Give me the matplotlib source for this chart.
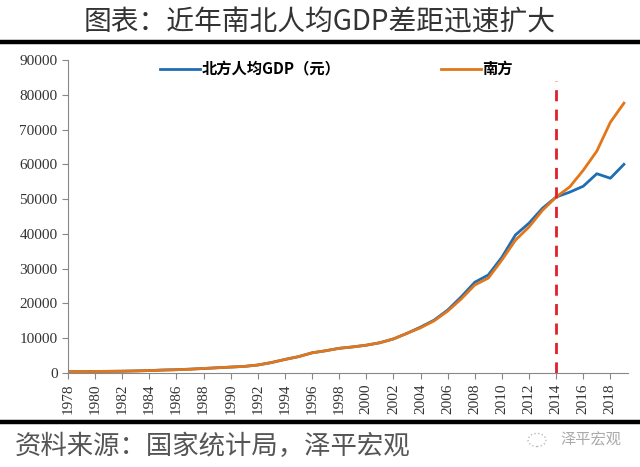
import matplotlib
matplotlib.use("Agg")
import matplotlib.pyplot as plt
from matplotlib.lines import Line2D
from matplotlib.patches import Circle

plt.rcParams['font.family'] = ['Noto Sans CJK SC', 'DejaVu Sans']

# data (元 per capita)
years = list(range(1978, 2020))
north = [380, 400, 450, 480, 520, 600, 700, 850, 950, 1100, 1300, 1500,
         1700, 1900, 2300, 3000, 3900, 4700, 5800, 6400, 7100, 7500,
         8000, 8700, 9800, 11400, 13200, 15200, 18100, 21900, 26100, 28200,
         33300, 39700, 43100, 47400, 50600, 52000, 53700, 57300, 56000, 60000]
south = [380, 400, 450, 480, 520, 600, 700, 850, 950, 1100, 1300, 1500,
         1700, 1900, 2300, 3000, 3900, 4700, 5800, 6400, 7100, 7500,
         8000, 8700, 9800, 11400, 13000, 15000, 17800, 21300, 25300, 27300,
         32500, 38200, 42000, 46800, 50600, 53500, 58300, 63800, 72100, 77600]
label_years = list(range(1978, 2019, 2))
yticks = list(range(0, 90001, 10000))
split_year = 2014

fig = plt.figure(figsize=(6.4, 4.67), dpi=100)
ax = fig.add_axes([68 / 640, 1 - 373 / 467, 560 / 640, 313 / 467])

ax.plot(years, north, color='#1f6eb4', lw=2.0, label='北方人均GDP（元）')
ax.plot(years, south, color='#e2761a', lw=2.0, label='南方')
ax.plot([split_year, split_year], [0, 84000], color='#e0202a', lw=2,
        dashes=(4, 3))

ax.set_xlim(1978, 2019.3)
ax.set_ylim(0, 90000)
ax.set_yticks(yticks)
ax.set_yticklabels([str(v) for v in yticks], family='Liberation Serif',
                   fontsize=11)
ax.set_xticks(label_years)
ax.set_xticklabels([str(v) for v in label_years], family='Liberation Serif',
                   fontsize=11, rotation=90)
for side in ['top', 'right']:
    ax.spines[side].set_visible(False)
for side in ['left', 'bottom']:
    ax.spines[side].set_color('#888888')
ax.tick_params(axis='both', colors='#888888', labelcolor='#333333',
               length=4)

leg = ax.legend(ncol=2, loc='upper left', bbox_to_anchor=(0.14, 1.04),
                frameon=False, handlelength=2.6, columnspacing=6.6,
                handletextpad=0.1,
                prop={'family': 'Noto Sans CJK SC', 'weight': 'bold',
                      'size': 11})

fig.text(0.5, 1 - 23 / 467, '图表：近年南北人均GDP差距迅速扩大',
         ha='center', va='center', fontsize=20, color='#333333',
         fontweight='light')
fig.add_artist(Line2D([0, 1], [1 - 42 / 467] * 2, color='black', lw=3.2))
fig.add_artist(Line2D([0, 1], [1 - 422 / 467] * 2, color='black', lw=3.2))
fig.text(15 / 640, 1 - 446 / 467, '资料来源：国家统计局，泽平宏观',
         ha='left', va='center', fontsize=19, color='#555555',
         fontweight='light')
# watermark with a faint round logo
fig.add_artist(Circle((537 / 640, 1 - 440 / 467), 0.014, fill=False,
                      ec='#bbbbbb', lw=1, ls=':',
                      transform=fig.transFigure))
fig.text(560 / 640, 1 - 440 / 467, '泽平宏观', ha='left', va='center',
         fontsize=11, color='#aaaaaa', fontweight='light')

fig.savefig('out.png', dpi=100)
